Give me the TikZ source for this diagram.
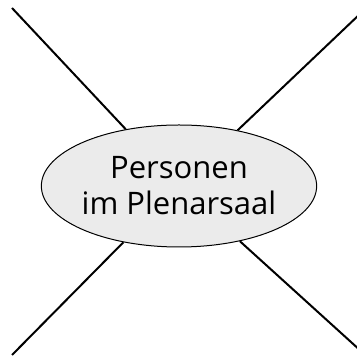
\documentclass[tikz,border=0pt]{standalone}
\usepackage{fontspec}
\setmainfont{Open Sans}
\usetikzlibrary{shapes.geometric}

\begin{document}
\begin{tikzpicture}[
    x=1pt, y=1pt,
    topic/.style = {ellipse, draw, fill=black!8, line width=1pt,
                    minimum width=254pt, minimum height=122pt, inner sep=0pt,
                    align=center, font=\fontsize{31}{36}\selectfont},
    spoke/.style = {line width=2pt}
]
\useasboundingbox (0,0) rectangle (357,356);

% Corners
\coordinate (tl) at (12,348);
\coordinate (tr) at (361,343);
\coordinate (bl) at (12,1);
\coordinate (br) at (362,4);

% Centre
\node[topic] (p) at (179,170) {Personen\\im Plenarsaal};

% Spokes
\draw[spoke] (tl) -- (p);
\draw[spoke] (tr) -- (p);
\draw[spoke] (bl) -- (p);
\draw[spoke] (br) -- (p);

\end{tikzpicture}
\end{document}
